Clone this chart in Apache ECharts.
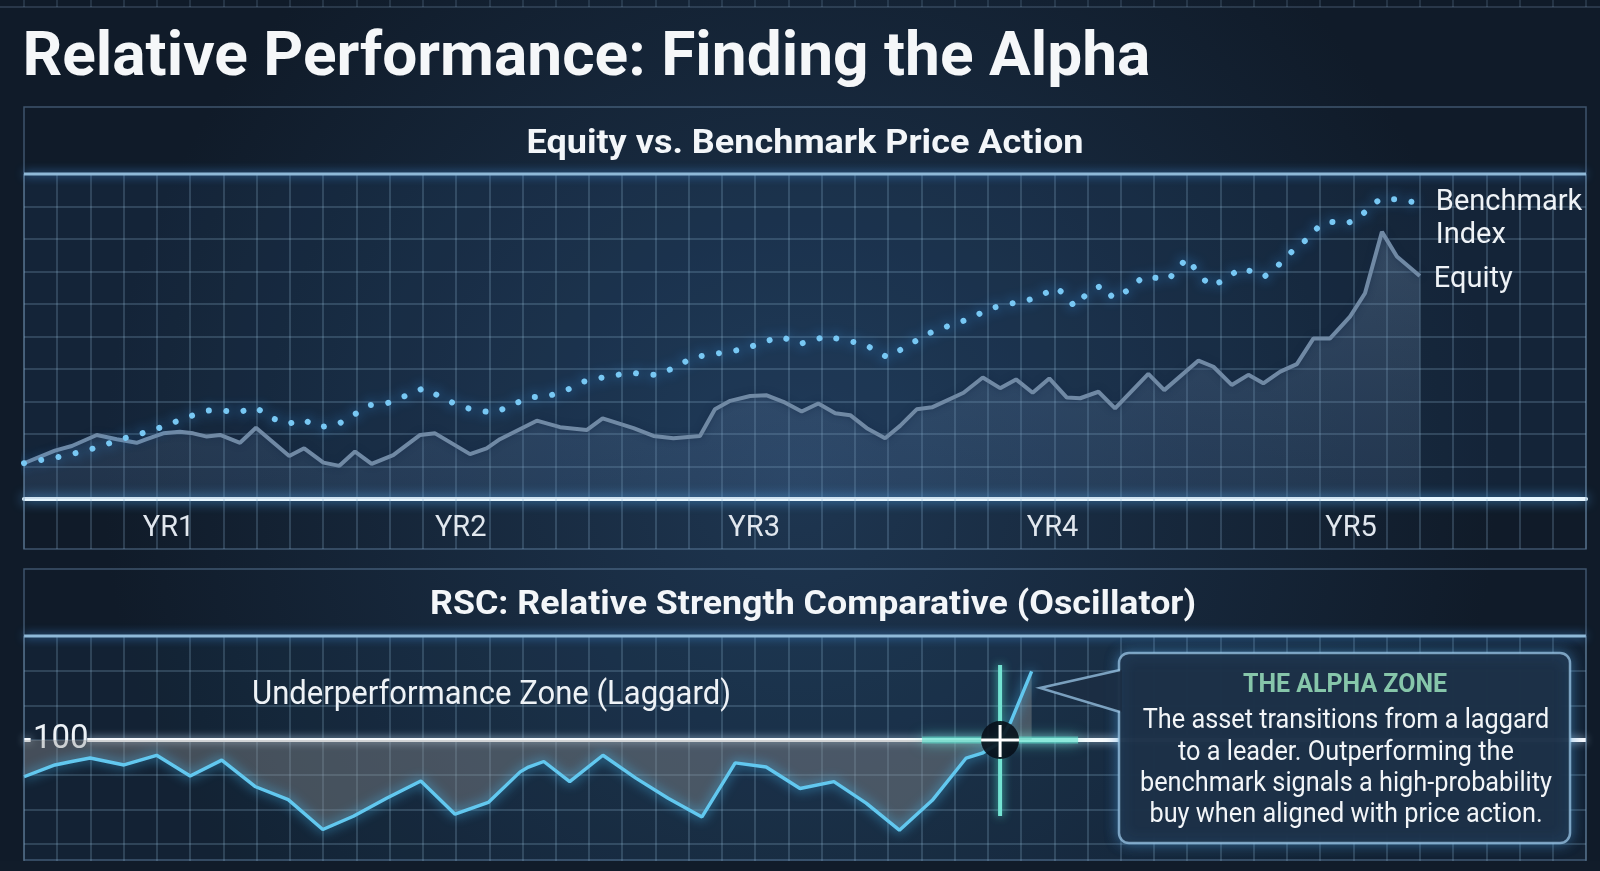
<!DOCTYPE html>
<html>
<head>
<meta charset="utf-8">
<script src="https://cdn.jsdelivr.net/npm/echarts@6/dist/echarts.min.js"></script>
<style>
html,body{margin:0;padding:0;background:#121e2d;overflow:hidden;}
#main{width:1600px;height:871px;}
</style>
</head>
<body>
<div id="main"></div>
<script>
// ---------------- DATA ----------------
const chartTitle = 'Relative Performance: Finding the Alpha';
const priceTitle = 'Equity vs. Benchmark Price Action';
const rscTitle = 'RSC: Relative Strength Comparative (Oscillator)';
const zoneLabel = 'Underperformance Zone (Laggard)';
const calloutTitle = 'THE ALPHA ZONE';
const calloutLines = [
  'The asset transitions from a laggard',
  'to a leader. Outperforming the',
  'benchmark signals a high-probability',
  'buy when aligned with price action.'
];
const seriesNames = ['Benchmark\nIndex', 'Equity'];

// x position measured in grid columns (0..47); year tick labels
const yearLabels = ['YR1', 'YR2', 'YR3', 'YR4', 'YR5'];
const yearTickCols = [4.35, 13.14, 21.97, 30.95, 39.93];

// price panel (index scale 0..100)
const benchmarkPoints = [
  [0,11.0],[0.63,12.2],[1.18,13.2],[1.74,14.6],[2.29,16.1],[2.84,18.2],[3.39,19.7],[3.94,21.4],
  [4.49,23.5],[5.00,25.5],[5.55,27.2],[5.85,27.4],[6.40,26.6],[6.98,28.1],[7.48,24.8],[7.95,23.1],
  [8.39,24.5],[8.86,22.1],[9.41,22.8],[9.91,25.8],[10.41,28.9],[10.96,29.6],[11.47,31.7],[12.02,34.1],
  [12.52,31.5],[13.04,28.9],[13.60,27.2],[14.17,26.6],[14.68,28.9],[15.18,31.2],[15.78,31.7],[16.33,33.5],
  [16.83,36.1],[17.41,37.4],[18.24,38.9],[18.82,38.2],[19.09,38.2],[19.62,40.7],[20.12,43.5],[20.64,44.5],
  [21.22,45.3],[21.75,46.4],[22.27,48.4],[22.80,49.9],[23.33,47.7],[23.85,49.1],[24.13,50.2],[24.71,48.7],
  [25.24,47.9],[25.98,43.6],[26.46,46.4],[26.96,49.4],[27.47,52.2],[28.02,53.8],[28.57,56.1],[29.09,58.7],
  [29.62,60.0],[30.17,61.0],[30.73,63.3],[31.06,65.1],[31.43,61.8],[31.60,59.2],[31.98,63.1],[32.43,65.8],
  [32.78,61.8],[33.23,64.3],[33.68,68.4],[34.19,67.9],[34.44,67.6],[34.99,74.1],[35.34,69.4],[35.69,65.5],
  [36.14,67.4],[36.59,71.0],[37.10,69.6],[37.32,68.4],[37.75,72.0],[38.15,76.1],[38.60,79.9],[39.00,84.3],
  [39.30,85.3],[39.80,84.8],[40.11,86.1],[40.36,88.4],[40.79,92.2],[41.31,92.2],[42.0,91.0]
];
const equityPoints = [
  [0,11.0],[0.93,14.9],[1.44,16.3],[2.19,19.7],[2.79,18.4],[3.39,17.3],[3.69,18.4],[4.19,20.2],
  [4.69,20.7],[5.09,20.2],[5.50,19.2],[5.90,19.7],[6.50,17.3],[6.98,21.9],[7.98,13.2],[8.43,15.6],
  [9.01,11.2],[9.49,10.2],[9.96,14.6],[10.46,10.8],[11.11,13.5],[11.92,19.7],[12.37,20.2],[13.42,13.8],
  [13.92,15.6],[14.32,18.4],[15.43,24.1],[16.13,22.1],[16.93,21.2],[17.41,24.8],[18.34,21.8],[18.94,19.4],
  [19.54,18.7],[20.34,19.4],[20.79,27.6],[21.25,30.2],[21.85,31.7],[22.35,31.9],[22.85,29.9],[23.40,26.9],
  [23.90,29.4],[24.41,26.4],[24.86,25.8],[25.36,21.8],[25.91,18.7],[26.36,22.5],[26.86,27.6],[27.32,28.2],
  [28.27,32.7],[28.85,37.4],[29.37,34.1],[29.85,36.8],[30.35,32.7],[30.85,37.1],[31.38,31.2],[31.78,31.0],
  [32.33,33.0],[32.83,27.9],[33.83,38.5],[34.31,33.5],[35.34,42.6],[35.79,40.7],[36.34,35.1],[36.84,38.2],
  [37.29,35.6],[37.80,39.2],[38.30,41.5],[38.80,49.4],[39.30,49.4],[39.90,56.1],[40.35,63.3],[40.86,82.2],
  [41.31,74.6],[42.0,68.6]
];

// RSC oscillator (100 = parity with benchmark)
const rscBaseline = 100;
const rscTickLabels = [100];
const rscPoints = [
  [0,94.7],[0.93,96.4],[1.44,96.9],[1.99,97.4],[3.01,96.4],[3.99,97.8],[5.00,94.8],[5.95,97.1],
  [6.95,93.3],[7.95,91.4],[8.99,87.1],[9.91,89.0],[10.91,91.6],[11.94,94.1],[12.97,89.3],[13.97,91.0],
  [14.93,95.4],[15.18,96.1],[15.64,96.9],[16.42,94.0],[17.42,97.8],[18.41,94.5],[19.38,91.6],[20.40,88.9],
  [21.40,96.7],[22.33,96.1],[23.35,93.0],[24.37,94.0],[25.34,90.9],[26.34,87.0],[27.33,91.3],[28.35,97.4],
  [28.83,98.1],[29.32,99.5],[29.69,102.6],[30.32,109.9]
];
const crossoverCol = 29.37;

// ---------------- STYLE / LAYOUT ----------------
const GRID_COLOR = 'rgba(150,185,215,0.30)';
const FONT = 'Roboto';
const measureCtx = document.createElement('canvas').getContext('2d');
function fitScale(text, weight, size, width) {
  measureCtx.font = weight + ' ' + size + 'px ' + FONT;
  return width / measureCtx.measureText(text).width;
}
function txt(text, x, y, size, weight, color, align, targetWidth, shadow) {
  const s = targetWidth ? fitScale(text, weight, size, targetWidth) : 1;
  const style = {
    text: text, fontSize: size, fontWeight: weight, fontFamily: FONT, fill: color,
    align: align, textAlign: align, verticalAlign: 'middle', textVerticalAlign: 'middle'
  };
  if (shadow) { style.shadowBlur = 6; style.shadowColor = 'rgba(0,0,0,0.6)'; }
  return {type: 'text', x: x, y: y, scaleX: s, z: 100, silent: true, style: style};
}

const chart = echarts.init(document.getElementById('main'), null, {renderer: 'canvas'});

const hiddenAxis = {axisLine: {show: false}, axisTick: {show: false}, axisLabel: {show: false}};
const option = {
  animation: false,
  backgroundColor: {
    type: 'radial', x: 0.5, y: 0.55, r: 0.8,
    colorStops: [{offset: 0, color: '#1e3651'}, {offset: 1, color: '#101b29'}]
  },
  grid: [
    {left: 24, right: 14, top: 174, height: 325, outerBoundsMode: 'none', show: true,
      backgroundColor: 'rgba(45,90,135,0.16)', borderWidth: 0},
    {left: 24, right: 14, top: 636, height: 242.67, outerBoundsMode: 'none', show: true,
      backgroundColor: 'rgba(45,90,135,0.12)', borderWidth: 0},
    {left: 24, right: 14, top: 0, height: 7, outerBoundsMode: 'none'}
  ],
  xAxis: [
    {
      gridIndex: 0, type: 'value', min: 0, max: 47, interval: 1,
      axisLine: {show: true, onZero: false, lineStyle: {color: '#e6f6ff', width: 4, shadowBlur: 12, shadowColor: 'rgba(90,180,255,0.95)'}},
      axisTick: {show: true, length: 50, lineStyle: {color: GRID_COLOR, width: 1.5}},
      axisLabel: {
        customValues: yearTickCols,
        formatter: function (v) {
          let best = 0;
          yearTickCols.forEach(function (c, i) { if (Math.abs(c - v) < Math.abs(yearTickCols[best] - v)) best = i; });
          return yearLabels[best];
        },
        color: '#e1e7ee', fontFamily: FONT, fontSize: 29, margin: 15
      },
      splitLine: {show: true, lineStyle: {color: GRID_COLOR, width: 1.5}}
    },
    Object.assign({gridIndex: 1, type: 'value', min: 0, max: 47, interval: 1,
      splitLine: {show: true, lineStyle: {color: GRID_COLOR, width: 1.5}}}, hiddenAxis),
    Object.assign({gridIndex: 2, type: 'value', min: 0, max: 47, interval: 1,
      splitLine: {show: true, lineStyle: {color: 'rgba(150,185,215,0.22)', width: 1.5}}}, hiddenAxis)
  ],
  yAxis: [
    Object.assign({gridIndex: 0, type: 'value', min: 0, max: 100, interval: 10,
      splitLine: {show: true, lineStyle: {color: GRID_COLOR, width: 1.5}}}, hiddenAxis),
    {
      gridIndex: 1, type: 'value', min: 80, max: 115, interval: 5,
      axisLine: {show: false}, axisTick: {show: false},
      axisLabel: {show: true, customValues: rscTickLabels, inside: true, margin: 9,
        color: '#eef3f7', fontFamily: FONT, fontSize: 33},
      splitLine: {show: true, lineStyle: {color: GRID_COLOR, width: 1.5}}
    },
    Object.assign({gridIndex: 2, type: 'value', min: 0, max: 1, splitLine: {show: false}}, hiddenAxis)
  ],
  series: [
    {
      name: 'Equity', type: 'line', xAxisIndex: 0, yAxisIndex: 0,
      data: equityPoints, symbol: 'none', z: 3,
      lineStyle: {color: '#7089a4', width: 4, shadowBlur: 6, shadowColor: 'rgba(20,40,70,0.6)'},
      areaStyle: {color: {type: 'linear', x: 0, y: 0, x2: 0, y2: 1,
        colorStops: [{offset: 0, color: 'rgba(125,155,190,0.42)'}, {offset: 1, color: 'rgba(95,125,165,0.24)'}]}},
      endLabel: {show: true, formatter: seriesNames[1], color: '#eef2f6', fontFamily: FONT, fontSize: 29,
        distance: 14, offset: [0, 4]}
    },
    {
      name: 'Benchmark Index', type: 'line', xAxisIndex: 0, yAxisIndex: 0,
      data: benchmarkPoints, symbol: 'none', z: 4,
      lineStyle: {color: '#78c8f4', width: 6, type: [0.01, 17.5], cap: 'round', join: 'round',
        shadowBlur: 12, shadowColor: 'rgba(50,150,235,1)'},
      endLabel: {show: true, formatter: seriesNames[0], color: '#eef2f6', fontFamily: FONT, fontSize: 29,
        lineHeight: 33, distance: 16, offset: [0, 16]}
    },
    {
      name: 'RSC', type: 'line', xAxisIndex: 1, yAxisIndex: 1,
      data: rscPoints, symbol: 'none', z: 4,
      lineStyle: {color: '#62c8ef', width: 3.4, shadowBlur: 12, shadowColor: 'rgba(70,185,240,0.95)'},
      areaStyle: {origin: rscBaseline, color: 'rgba(150,150,150,0.55)'},
      markLine: {
        silent: true, symbol: 'none', animation: false, z: 3,
        label: {show: false},
        lineStyle: {color: '#f6f9fc', width: 4, type: 'solid', shadowBlur: 8, shadowColor: 'rgba(200,230,255,0.8)'},
        data: [
          [{coord: [0, rscBaseline]}, {coord: [0.2, rscBaseline]}],
          [{coord: [1.9, rscBaseline]}, {coord: [47, rscBaseline]}]
        ]
      }
    }
  ]
};
chart.setOption(option);

// ------------- overlays (panels, titles, annotation, callout) -------------
const p = chart.convertToPixel({gridIndex: 1}, [crossoverCol, rscBaseline]);
const px = p[0], py = p[1];
const BOX_FILL = 'rgba(27,46,68,0.96)';
const BOX_STROKE = 'rgba(150,192,224,0.78)';
const graphics = [
  {type: 'line', z: 1, silent: true, shape: {x1: 0, y1: 7, x2: 1600, y2: 7}, style: {stroke: 'rgba(150,185,215,0.25)', lineWidth: 1.5}},
  {type: 'rect', z: 1, silent: true, shape: {x: 24, y: 107, width: 1562, height: 442},
    style: {fill: 'none', stroke: 'rgba(120,155,190,0.45)', lineWidth: 1.5}},
  {type: 'rect', z: 60, silent: true, shape: {x: 0, y: 861, width: 1600, height: 10}, style: {fill: '#111c2a'}},
  {type: 'rect', z: 61, silent: true, shape: {x: 24, y: 569, width: 1562, height: 291},
    style: {fill: 'none', stroke: 'rgba(120,155,190,0.45)', lineWidth: 1.5}},
  {type: 'line', z: 20, silent: true, shape: {x1: 24, y1: 174, x2: 1586, y2: 174},
    style: {stroke: '#8fb9d8', lineWidth: 3, shadowBlur: 10, shadowColor: 'rgba(70,150,230,0.9)'}},
  {type: 'line', z: 20, silent: true, shape: {x1: 24, y1: 636, x2: 1586, y2: 636},
    style: {stroke: '#8fb9d8', lineWidth: 3, shadowBlur: 10, shadowColor: 'rgba(70,150,230,0.9)'}},
  txt(chartTitle, 22.4, 60, 61, 700, '#f5f7f9', 'left', 1128, true),
  txt(priceTitle, 805, 144, 34, 700, '#f3f6f9', 'center', 557),
  txt(rscTitle, 813, 605.5, 34, 700, '#f3f6f9', 'center', 766),
  txt(zoneLabel, 491.5, 695, 34, 400, '#eef2f6', 'center', 479),
  {type: 'line', z: 30, silent: true, shape: {x1: px - 78, y1: py, x2: px + 78, y2: py},
    style: {stroke: 'rgba(95,225,205,0.6)', lineWidth: 7, shadowBlur: 14, shadowColor: 'rgba(80,230,210,0.95)'}},
  {type: 'line', z: 31, silent: true, shape: {x1: px, y1: py - 75, x2: px, y2: py + 76},
    style: {stroke: '#74e4d3', lineWidth: 4, shadowBlur: 10, shadowColor: 'rgba(80,230,210,0.95)'}},
  {type: 'circle', z: 32, silent: true, shape: {cx: px, cy: py, r: 19}, style: {fill: 'rgba(8,16,26,0.9)'}},
  {type: 'line', z: 33, silent: true, shape: {x1: px - 19, y1: py, x2: px + 19, y2: py}, style: {stroke: '#ffffff', lineWidth: 3}},
  {type: 'line', z: 33, silent: true, shape: {x1: px, y1: py - 15, x2: px, y2: py + 17}, style: {stroke: '#ffffff', lineWidth: 3}},
  {type: 'rect', z: 40, silent: true, shape: {x: 1119, y: 653, width: 451, height: 190, r: 10},
    style: {fill: BOX_FILL, stroke: BOX_STROKE, lineWidth: 2.5, shadowBlur: 14, shadowColor: 'rgba(80,160,225,0.55)'}},
  {type: 'polygon', z: 41, silent: true, shape: {points: [[1040, 688], [1122, 670], [1122, 712]]}, style: {fill: BOX_FILL}},
  {type: 'polyline', z: 42, silent: true, shape: {points: [[1120, 670], [1040, 688], [1120, 712]]},
    style: {stroke: BOX_STROKE, lineWidth: 2.5, fill: null}},
  txt(calloutTitle, 1345, 685.5, 26, 700, '#86c6aa', 'center', 204)
];
const bodyScale = fitScale(calloutLines[2], 400, 27, 412);
calloutLines.forEach(function (line, i) {
  const t = txt(line, 1346, 721.5 + 31.3 * i, 27, 400, '#f2f5f8', 'center');
  t.scaleX = bodyScale;
  graphics.push(t);
});
chart.setOption({graphic: graphics});
</script>
</body>
</html>
